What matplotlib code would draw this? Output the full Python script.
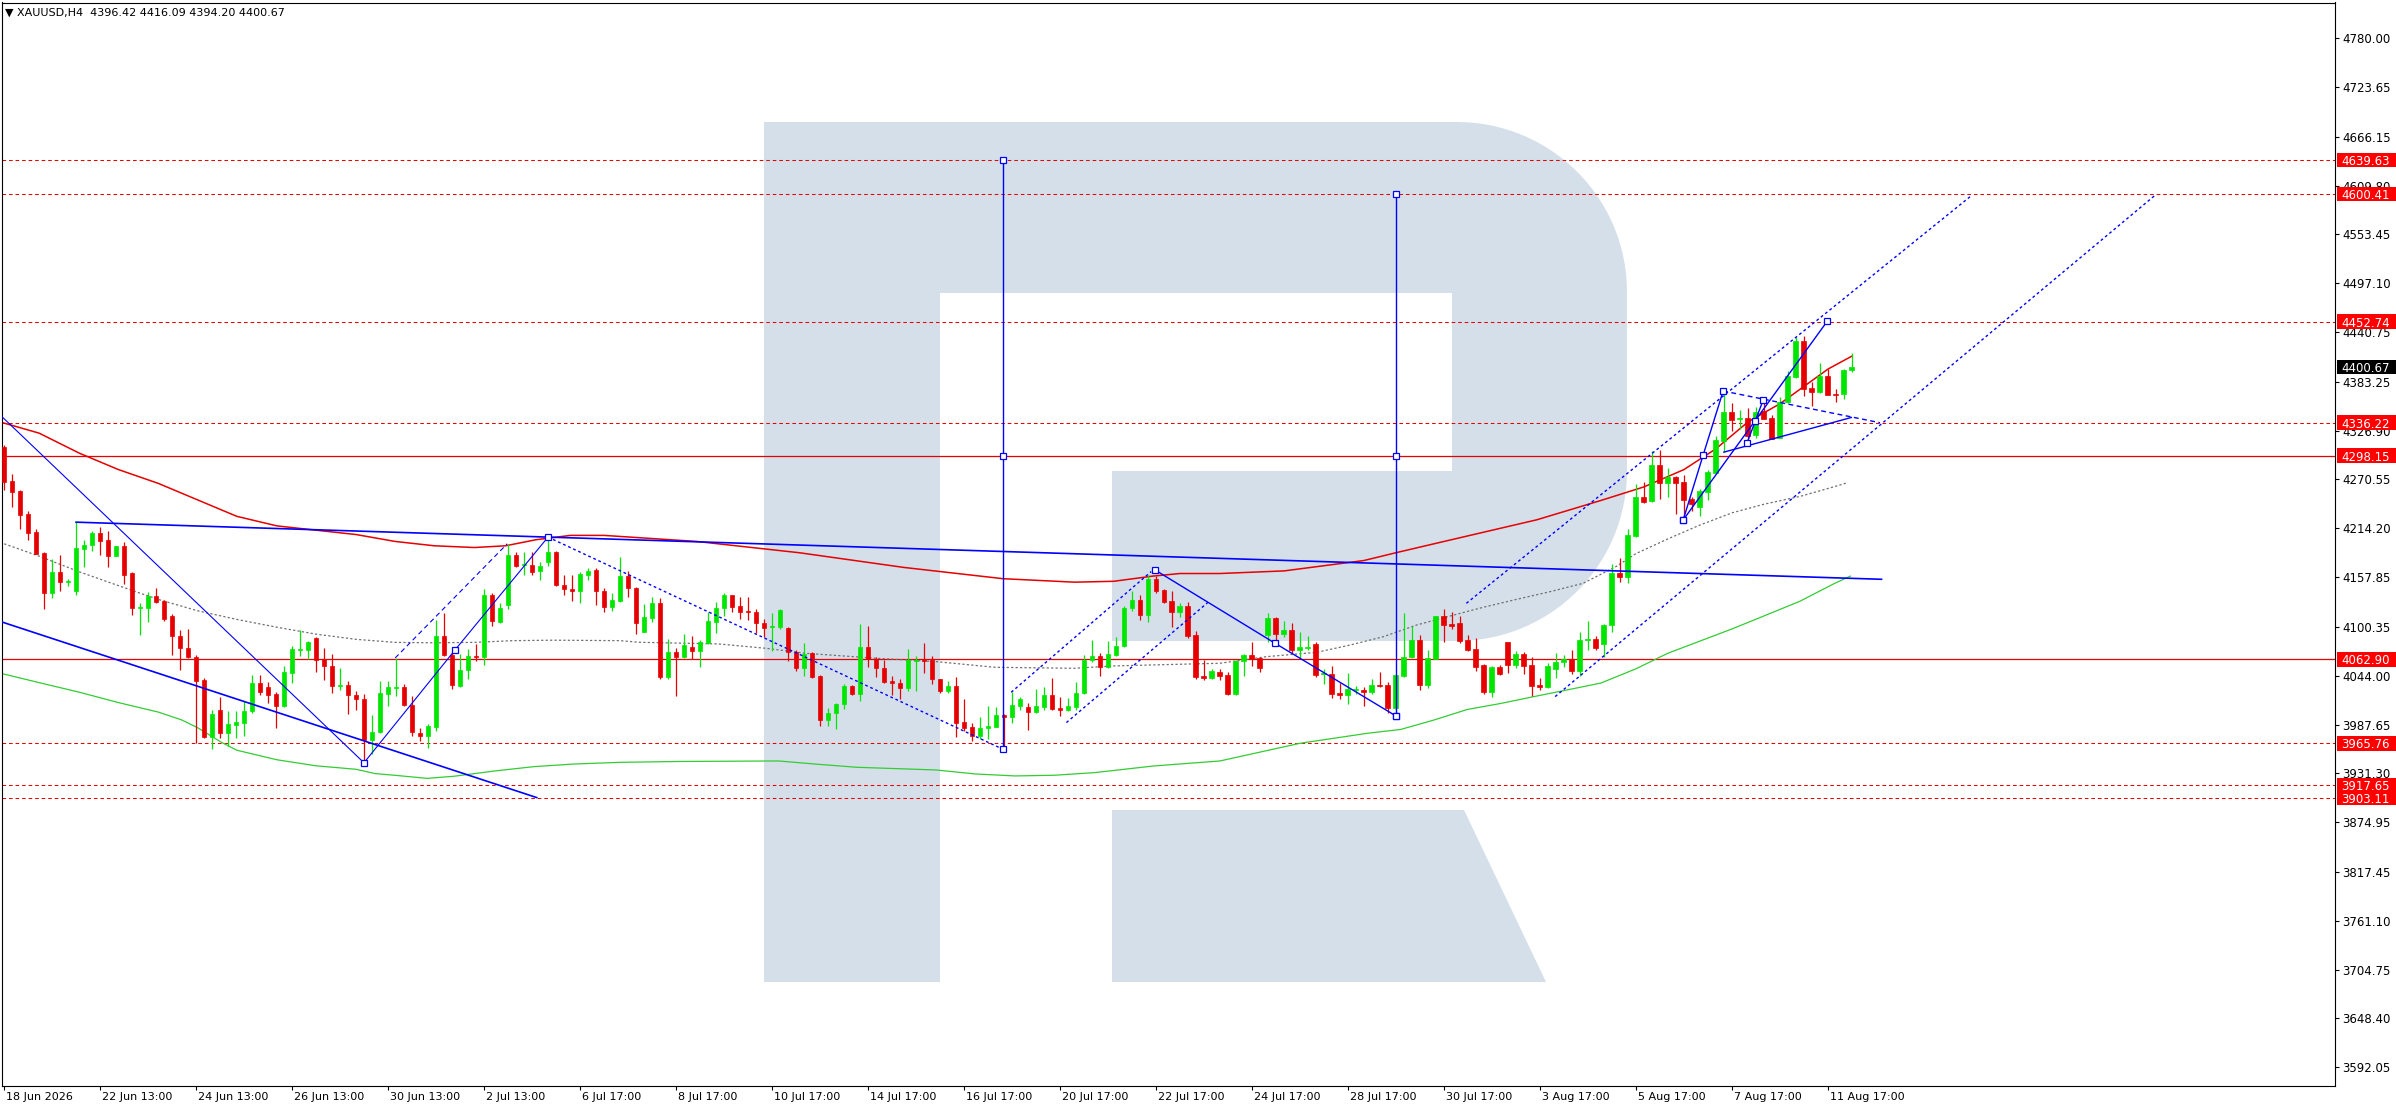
import matplotlib
matplotlib.use('Agg')
import matplotlib.pyplot as plt
import matplotlib.transforms as mtransforms
from matplotlib.patches import Polygon, Rectangle
import numpy as np

plt.rcParams['font.family'] = ['DejaVu Sans']
plt.rcParams['lines.scale_dashes'] = False

# ---------------- DATA ----------------
symbol_header = "\u25BC XAUUSD,H4  4396.42 4416.09 4394.20 4400.67"

opens = [4308.5,4268.9,4257.8,4230.9,4210.1,4185.5,4139.8,4164.0,4152.1,4142.1,
4190.5,4194.4,4209.3,4200.5,4182.4,4193.2,4162.5,4121.7,4121.7,4136.3,
4130.6,4113.3,4090.2,4076.4,4066.0,4039.5,3973.1,4004.9,3977.3,3986.9,
3989.2,4003.0,4035.7,4030.7,4023.4,4008.8,4047.2,4074.1,4074.1,4087.9,
4063.7,4055.7,4031.8,4033.0,4022.2,4017.6,3969.6,3978.8,4023.4,4029.9,
4031.1,4009.9,3978.1,3974.2,3984.6,4090.2,4068.3,4031.8,4050.3,4067.2,
4065.3,4137.5,4106.0,4125.2,4183.6,4171.3,4172.1,4164.4,4174.8,4186.7,
4149.0,4144.4,4141.3,4160.6,4166.3,4141.9,4123.8,4130.7,4159.2,4145.7,
4094.9,4111.1,4127.6,4042.2,4071.4,4066.1,4077.6,4073.0,4081.4,4106.5,
4121.9,4137.2,4124.5,4118.0,4117.6,4104.5,4100.3,4100.7,4099.1,4071.8,
4053.4,4069.9,4043.7,3992.9,4000.6,4011.0,4032.2,4022.6,4077.6,4063.4,
4052.6,4038.0,4035.3,4030.3,4061.1,4062.2,4062.2,4039.9,4026.8,4032.2,
3990.6,3984.9,3974.9,3983.3,3985.2,3998.7,3996.8,4009.1,4007.6,4002.6,
4007.6,4021.8,4007.2,4004.5,4008.3,4023.7,4062.2,4066.8,4053.7,4068.0,
4078.8,4121.9,4131.5,4114.2,4155.3,4143.0,4130.3,4118.0,4124.5,4091.1,
4044.1,4041.8,4048.3,4044.9,4023.0,4061.0,4068.0,4064.1,4091.0,4111.1,
4092.2,4096.8,4074.1,4076.4,4080.7,4045.6,4046.0,4024.5,4021.8,4027.6,
4027.6,4025.6,4033.3,4033.3,4007.2,4044.1,4066.0,4085.3,4033.3,4063.3,
4113.0,4103.7,4104.5,4085.3,4074.9,4056.4,4025.6,4054.5,4083.0,4056.4,
4069.1,4056.4,4033.3,4030.6,4051.8,4059.5,4063.0,4049.9,4085.3,4086.4,
4080.3,4102.6,4162.2,4158.4,4205.3,4250.0,4246.1,4287.3,4266.9,4273.0,
4268.0,4247.6,4238.4,4256.5,4278.4,4315.4,4348.1,4340.0,4341.9,4321.9,
4350.0,4341.5,4318.8,4360.4,4388.5,4430.4,4376.6,4371.9,4390.0,4368.9,
4369.2,4396.42]

highs = [4310.4,4277.0,4258.5,4234.7,4213.6,4186.3,4178.6,4183.6,4155.9,4221.3,
4200.9,4211.3,4215.5,4211.3,4193.9,4198.2,4163.2,4128.3,4140.2,4145.2,
4131.7,4115.6,4097.2,4098.3,4068.3,4041.8,4004.2,4019.5,4003.4,4003.4,
4014.5,4044.9,4044.9,4036.4,4024.9,4054.9,4078.7,4097.2,4084.5,4088.7,
4076.0,4069.5,4053.0,4037.6,4026.8,4023.4,3999.2,4038.4,4037.6,4064.5,
4034.5,4020.3,3983.8,3988.4,4108.7,4116.4,4070.3,4069.5,4074.9,4081.0,
4144.4,4139.4,4127.9,4196.3,4187.4,4187.4,4186.3,4175.1,4204.0,4188.2,
4160.6,4160.6,4163.2,4168.2,4168.2,4144.9,4139.2,4180.7,4165.3,4146.1,
4126.5,4134.6,4133.4,4086.1,4076.4,4092.2,4090.3,4085.3,4118.0,4128.8,
4139.2,4137.2,4134.6,4134.6,4121.1,4109.2,4116.1,4121.1,4100.7,4073.8,
4081.4,4071.1,4044.5,4006.4,4012.9,4034.5,4033.3,4103.8,4101.8,4065.3,
4062.2,4043.7,4039.9,4074.9,4066.8,4082.2,4066.8,4040.3,4038.0,4043.0,
4017.2,3989.9,3996.0,4009.5,4008.3,3999.5,4024.9,4019.9,4012.2,4028.3,
4031.4,4041.0,4019.9,4017.9,4037.2,4068.0,4085.3,4070.7,4084.1,4089.1,
4124.5,4141.9,4137.2,4160.3,4159.2,4143.8,4141.9,4128.4,4128.8,4096.1,
4062.2,4051.8,4051.4,4048.7,4062.2,4069.1,4083.0,4066.0,4116.4,4112.2,
4107.2,4104.5,4094.5,4089.9,4083.0,4051.8,4055.3,4035.2,4046.8,4032.2,
4031.4,4039.9,4047.9,4036.4,4044.9,4116.8,4101.4,4091.0,4073.7,4113.0,
4121.1,4118.0,4112.6,4091.0,4087.2,4057.6,4055.6,4056.4,4083.0,4072.6,
4071.8,4066.0,4041.0,4058.3,4069.9,4068.0,4073.7,4094.5,4107.2,4089.9,
4103.3,4173.0,4180.3,4213.4,4265.3,4268.0,4303.4,4304.6,4283.4,4274.6,
4275.7,4250.7,4259.2,4281.5,4320.8,4373.9,4358.5,4350.8,4352.7,4353.9,
4363.1,4345.0,4365.4,4396.2,4435.4,4436.6,4383.5,4405.4,4398.1,4375.4,
4398.1,4416.09]

lows = [4258.5,4239.3,4213.6,4200.9,4184.0,4121.4,4133.7,4142.1,4147.1,4136.7,
4169.8,4188.2,4182.8,4169.0,4182.4,4150.2,4113.7,4090.6,4105.6,4127.9,
4107.1,4068.3,4050.3,4064.5,3965.8,3972.0,3959.6,3972.3,3962.7,3972.3,
3974.2,4001.1,4022.2,4012.2,3983.8,4008.0,4035.7,4067.2,4063.7,4048.0,
4039.5,4024.2,4028.0,4000.3,4004.9,3943.5,3953.1,3978.1,4008.8,4021.1,
4008.8,3974.2,3969.2,3960.8,3980.7,4067.2,4028.8,4030.7,4040.7,4060.6,
4056.8,4101.0,4104.8,4121.4,4169.0,4159.8,4159.8,4154.8,4170.1,4147.1,
4136.7,4130.6,4128.3,4154.8,4125.2,4117.2,4119.2,4129.5,4135.3,4092.2,
4094.1,4106.5,4040.3,4040.3,4021.0,4064.1,4063.0,4054.5,4080.7,4093.8,
4113.0,4118.0,4109.2,4108.4,4093.8,4089.1,4073.0,4098.0,4061.4,4049.9,
4044.1,4041.8,3986.4,3986.4,3982.9,4006.0,4021.8,4015.3,4053.7,4043.0,
4035.3,4021.8,4017.2,4026.8,4026.8,4047.6,4034.1,4023.7,4023.7,3973.7,
3980.6,3969.1,3970.6,3970.6,3985.2,3962.0,3989.1,4004.5,3981.4,4001.4,
4004.5,4004.5,3997.6,4003.7,4004.5,4023.0,4060.3,4043.7,4052.6,4067.0,
4077.6,4119.2,4108.4,4106.5,4139.2,4128.4,4100.7,4112.2,4087.2,4040.3,
4039.1,4040.6,4039.1,4021.8,4022.2,4043.7,4055.3,4048.3,4083.3,4084.5,
4089.1,4070.6,4064.1,4073.7,4042.2,4034.5,4018.7,4016.8,4011.4,4022.9,
4009.5,4022.9,4031.4,4001.4,3997.5,4042.9,4064.1,4027.6,4029.5,4062.9,
4083.3,4097.6,4082.2,4072.6,4049.9,4022.9,4019.9,4044.9,4047.6,4052.6,
4046.0,4020.6,4027.6,4029.5,4041.8,4054.5,4046.0,4044.1,4073.7,4073.7,
4066.0,4094.9,4152.6,4150.7,4204.6,4243.0,4244.2,4247.6,4250.0,4230.3,
4223.8,4234.6,4228.8,4246.9,4277.7,4301.9,4326.9,4328.4,4316.1,4318.1,
4340.4,4316.9,4318.1,4359.2,4387.3,4367.3,4355.8,4370.8,4367.7,4360.4,
4363.1,4394.20]

closes = [4268.1,4256.6,4229.7,4209.3,4184.8,4139.8,4164.0,4151.7,4152.9,4191.7,
4195.1,4209.3,4199.7,4182.4,4193.2,4160.6,4121.7,4123.3,4136.3,4128.7,
4109.8,4089.5,4075.6,4065.3,4038.4,3973.1,4000.3,3977.3,3988.0,3990.0,
4003.4,4035.7,4024.9,4021.9,4008.8,4048.4,4074.9,4074.9,4082.5,4061.8,
4054.9,4031.8,4033.8,4021.5,4017.2,3969.6,3979.6,4024.2,4030.7,4031.1,
4010.7,3978.8,3974.2,3985.7,4090.2,4068.3,4033.0,4051.1,4067.2,4065.3,
4137.5,4106.8,4122.1,4183.6,4170.9,4172.1,4163.6,4170.1,4186.7,4148.3,
4144.0,4141.3,4161.7,4165.2,4141.3,4123.8,4131.5,4159.2,4144.9,4105.3,
4111.8,4127.6,4042.2,4071.4,4066.1,4079.5,4073.0,4082.6,4107.2,4122.6,
4137.2,4123.8,4117.2,4117.2,4104.5,4099.5,4101.5,4119.9,4071.8,4053.4,
4069.1,4043.0,3992.9,4001.4,4011.4,4032.2,4022.6,4077.6,4063.4,4052.6,
4037.2,4035.3,4030.3,4062.2,4062.2,4061.1,4039.9,4026.8,4032.2,3989.9,
3984.1,3974.9,3983.3,3986.4,3998.7,3996.8,4010.3,4017.2,4002.6,4009.1,
4021.8,4005.6,4004.5,4009.1,4023.7,4062.2,4066.8,4053.7,4069.1,4078.8,
4122.6,4131.5,4114.2,4155.3,4141.9,4129.5,4118.0,4124.5,4089.9,4042.2,
4041.8,4049.5,4044.1,4023.0,4061.0,4068.0,4063.0,4053.3,4110.7,4092.2,
4096.8,4073.7,4077.2,4077.2,4044.9,4046.8,4023.0,4021.8,4028.7,4028.3,
4025.6,4033.7,4032.6,4007.2,4044.9,4065.6,4085.3,4033.3,4064.9,4113.0,
4102.6,4101.4,4084.5,4073.7,4054.5,4025.6,4054.5,4046.0,4056.4,4069.1,
4055.6,4032.6,4030.6,4055.3,4059.5,4063.0,4049.9,4085.3,4086.8,4076.4,
4102.6,4162.2,4158.4,4206.5,4250.7,4244.2,4287.3,4266.9,4273.0,4266.9,
4246.9,4241.9,4257.3,4279.6,4316.1,4348.1,4339.2,4341.9,4321.1,4348.1,
4340.8,4317.3,4360.4,4390.0,4430.8,4375.0,4371.9,4390.0,4368.1,4367.7,
4396.9,4400.67]

# moving averages (bar index, value)
ma_red_bar = [-0.5, 4.4, 9.4, 14.3, 19.3, 24.2, 29.1, 34.1, 39, 44, 48.9, 53.8, 58.8, 62.7,
              66.5, 70.8, 75, 86.6, 99.4, 112.5, 124.9, 133.8, 138.7, 143.6, 147, 152,
              160, 170, 174, 180, 191.6, 199.5, 205, 210, 214, 218, 222, 225, 228, 231]
ma_red_val = [4337, 4324, 4301, 4282, 4266, 4247, 4228, 4217, 4212, 4207, 4199, 4194, 4192, 4194,
              4201, 4206, 4206, 4199, 4186, 4169, 4156, 4152, 4153, 4159, 4162, 4162,
              4165, 4177, 4186, 4199, 4224, 4246, 4262, 4282, 4306, 4337, 4358, 4378, 4398, 4413]

ma_gray_bar = [-0.5, 4.4, 9.4, 14.3, 19.3, 24.2, 29.1, 34.1, 39, 44, 48.9, 53.8, 58.8, 63.7,
               68.7, 77, 79.4, 89.3, 95.2, 100.2, 109.1, 116.5, 123.9, 133.8, 138.7, 152,
               157.8, 164.1, 168.3, 172.4, 176.6, 180.8, 184.9, 189.1, 193.3, 197.4, 201.5,
               204, 208, 212, 216, 220, 224.5, 228.7, 230.5]
ma_gray_val = [4198, 4182, 4164, 4148, 4132, 4119, 4109, 4100, 4092, 4086, 4082.5, 4082, 4082.5, 4084.5,
               4085, 4084.5, 4082.6, 4080.7, 4075.7, 4069.9, 4064.1, 4060.3, 4053.7, 4052.6, 4055.3, 4058.4,
               4066, 4071, 4079.5, 4089, 4102.6, 4113, 4123, 4132.2, 4141.1, 4150.7, 4170,
               4185, 4202, 4218, 4232, 4242, 4251, 4262, 4267]

ma_green_bar = [-0.5, 4.4, 9.4, 14.3, 19.3, 22.2, 24.2, 27.2, 29.1, 34.1, 39, 44, 46.4, 48.9,
                52.9, 56.3, 61.3, 66.2, 71.1, 77, 84.4, 96.8, 101.7, 106.6, 116.5, 121.4,
                126.4, 131.3, 136.3, 143.7, 152, 162, 170.4, 174.6, 178.8, 182.9, 187.1,
                191.3, 195.4, 199.6, 204, 208, 212, 216, 220, 224.5, 228.7, 230.8]
ma_green_val = [4047, 4036, 4025, 4013, 4002, 3993, 3984, 3967, 3958, 3947, 3940, 3936, 3931, 3929,
                3925.5, 3928, 3934, 3939, 3942, 3944, 3945, 3945.6, 3941.8, 3938.3, 3935.2, 3930.6,
                3928.3, 3929.1, 3932.1, 3939.8, 3945.6, 3966, 3977.5, 3982, 3993, 4005, 4012,
                4020, 4027.6, 4035.5, 4052, 4070, 4084, 4098, 4113, 4130, 4150, 4159]

# horizontal levels
levels_dashed = [4639.63, 4600.41, 4452.74, 4336.22, 3965.76, 3917.65, 3903.11]
levels_solid = [4298.15, 4062.90]
current_price = 4400.67

# price-axis ticks
price_ticks = [4780.00, 4723.65, 4666.15, 4609.80, 4553.45, 4497.10, 4440.75, 4383.25, 4326.90,
               4270.55, 4214.20, 4157.85, 4100.35, 4044.00, 3987.65, 3931.30, 3874.95, 3817.45,
               3761.10, 3704.75, 3648.40, 3592.05]

# time-axis labels (every 12 bars)
time_labels = ["18 Jun 2026", "22 Jun 13:00", "24 Jun 13:00", "26 Jun 13:00", "30 Jun 13:00",
               "2 Jul 13:00", "6 Jul 17:00", "8 Jul 17:00", "10 Jul 17:00", "14 Jul 17:00",
               "16 Jul 17:00", "20 Jul 17:00", "22 Jul 17:00", "24 Jul 17:00", "28 Jul 17:00",
               "30 Jul 17:00", "3 Aug 17:00", "5 Aug 17:00", "7 Aug 17:00", "11 Aug 17:00"]
time_label_bars = [12 * k for k in range(len(time_labels))]

# drawn objects (bar, price)
line_big_diag = [(-0.25, 4343.0), (45, 3943.5)]
line_zig1 = [(45, 3943.5), (56.4, 4074.0), (68, 4204.0)]
line_dot_down = [(68, 4204.0), (124.9, 3959.0)]
line_dash_ch1 = [(48.9, 4064.5), (62.9, 4196.3)]
line_vert1 = [(124.9, 3959.0), (124.9, 4298.15), (124.9, 4639.63)]
line_dot_ch2a = [(125.9, 4024.9), (143.4, 4164.2)]
line_dot_ch2b = [(132.8, 3989.9), (150.6, 4129.5)]
line_zig2 = [(143.9, 4166.0), (158.9, 4081.4), (174.0, 3997.5)]
line_vert2 = [(174.0, 3997.5), (174.0, 4298.15), (174.0, 4600.41)]
line_long_flat = [(8.9, 4221.3), (234.8, 4155.3)]
line_low_left = [(-0.25, 4106.0), (66.7, 3903.0)]
line_up_ch_a = [(182.8, 4127.6), (245.9, 4598.0)]
line_up_ch_b = [(193.9, 4019.9), (268.8, 4598.0)]
line_zigA = [(209.9, 4223.8), (212.4, 4298.8), (214.9, 4372.7)]
line_zigC = [(209.9, 4223.8), (218.9, 4338.5), (227.9, 4453.1)]
line_zigD = [(217.9, 4313.1), (219.9, 4362.3)]
line_tri_top = [(214.9, 4372.7), (234.5, 4336.1)]
line_tri_bot = [(214.9, 4301.9), (231.0, 4342.3)]

# ---------------- FIGURE ----------------
W, H = 2396, 1110
fig = plt.figure(figsize=(W / 100, H / 100), dpi=100)
fig.patch.set_facecolor('white')
PL, PR, PT, PB = 2.0, 2334.6, 2.5, 1085.7
ax = fig.add_axes([PL / W, 1 - PB / H, (PR - PL) / W, (PB - PT) / H])
ax.set_facecolor('white')
ax.set_xlim(-0.25, 291.33)
ax.set_ylim(3570.7, 4821.2)

# pixel transform (x from left, y from top) for the watermark
pix = mtransforms.Affine2D().scale(1.0 / W, -1.0 / H).translate(0, 1) + fig.transFigure

# watermark "R"
wm_col = '#D5DFEA'
r = 170.0
t1 = np.linspace(np.pi / 2, 0, 30)
t2 = np.linspace(0, -np.pi / 2, 30)
cx = 1627 - r
top_arc = [(cx + r * np.cos(t), (122 + r) - r * np.sin(t)) for t in t1]
bot_arc = [(cx + r * np.cos(t), (641 - r) - r * np.sin(t)) for t in t2]
outer = [(764, 122)] + top_arc + bot_arc + [(1112, 641), (1112, 471), (1452, 471),
                                            (1452, 293), (940, 293), (940, 982), (764, 982)]
ax.add_patch(Polygon(outer, closed=True, transform=pix, facecolor=wm_col, edgecolor='none', zorder=0.5))
leg = [(1112, 810), (1464, 810), (1546, 982), (1112, 982)]
ax.add_patch(Polygon(leg, closed=True, transform=pix, facecolor=wm_col, edgecolor='none', zorder=0.5))

RED = '#E60000'
GREEN = '#00E600'
BLUE = '#0000FF'

# horizontal levels
for lv in levels_dashed:
    ax.axhline(lv, color=RED, lw=0.75, dashes=(2.6, 2.1), zorder=1)
for lv in levels_solid:
    ax.axhline(lv, color=RED, lw=0.9, zorder=1)

# moving averages
ax.plot(ma_red_bar, ma_red_val, color=RED, lw=1.1, zorder=2)
ax.plot(ma_gray_bar, ma_gray_val, color='#707070', lw=0.9, dashes=(1.6, 1.6), zorder=2)
ax.plot(ma_green_bar, ma_green_val, color='#33CC33', lw=0.9, zorder=2)

# candles
xs = np.arange(len(opens))
o = np.array(opens); h = np.array(highs); l = np.array(lows); c = np.array(closes)
up = c >= o
cols = np.where(up, GREEN, RED)
ax.vlines(xs, l, h, colors=cols, lw=0.9, zorder=3)
body_bot = np.minimum(o, c)
body_h = np.maximum(np.abs(c - o), 1.2)
ax.bar(xs, body_h, bottom=body_bot, width=0.62, color=cols, edgecolor=cols, lw=0.5, zorder=3.1)

# drawn objects
def draw(pts, ls='solid', lw=0.8, markers=False):
    xx = [p[0] for p in pts]; yy = [p[1] for p in pts]
    kw = {}
    if ls == 'dot':
        kw['dashes'] = (2.0, 2.0)
    elif ls == 'dash':
        kw['dashes'] = (3.5, 2.5)
    ax.plot(xx, yy, color=BLUE, lw=lw, zorder=4, solid_capstyle='butt', **kw)
    if markers:
        ax.plot(xx, yy, ls='none', marker='s', ms=4.2, mfc='white', mec=BLUE, mew=0.9, zorder=4.5)

draw(line_big_diag, lw=0.8)
draw(line_zig1, lw=0.8, markers=True)
draw(line_dot_down, ls='dot', lw=1.0)
draw(line_dash_ch1, ls='dash', lw=0.8)
draw(line_vert1, lw=1.0, markers=True)
draw(line_dot_ch2a, ls='dot', lw=1.0)
draw(line_dot_ch2b, ls='dot', lw=1.0)
draw(line_zig2, lw=1.0, markers=True)
draw(line_vert2, lw=1.0, markers=True)
draw(line_long_flat, lw=1.2)
draw(line_low_left, lw=1.2)
draw(line_up_ch_a, ls='dot', lw=1.0)
draw(line_up_ch_b, ls='dot', lw=1.0)
draw(line_zigA, lw=1.0, markers=True)
draw(line_zigC, lw=1.0, markers=True)
draw(line_zigD, lw=1.0, markers=True)
draw(line_tri_top, ls='dash', lw=1.0)
draw(line_tri_bot, lw=1.0)

# axes styling
for s in ax.spines.values():
    s.set_color('black'); s.set_linewidth(0.8)
ax.yaxis.tick_right()
ax.set_yticks(price_ticks)
ax.set_yticklabels([f"{v:.2f}" for v in price_ticks])
ax.tick_params(axis='y', direction='out', length=3, width=0.8, pad=2.5, labelsize=8.5,
               right=True, left=False, labelright=True, labelleft=False, colors='black')
ax.set_xticks(time_label_bars)
ax.set_xticklabels(time_labels)
ax.tick_params(axis='x', direction='out', length=3, width=0.8, pad=1.5, labelsize=8, colors='black')
off = mtransforms.ScaledTranslation(2 / 100, 0, fig.dpi_scale_trans)
for lbl in ax.get_xticklabels():
    lbl.set_horizontalalignment('left')
    lbl.set_transform(lbl.get_transform() + off)

# right-side price labels
bt = mtransforms.blended_transform_factory(fig.transFigure, ax.transData)
box_h = 14.5 / 0.8662
def price_box(val, fc):
    fig.add_artist(Rectangle((2336.5 / W, val - box_h / 2), 59.5 / W, box_h, transform=bt,
                             facecolor=fc, edgecolor='none', zorder=5, clip_on=False))
    fig.text(2341.5 / W, val, f"{val:.2f}", transform=bt, color='white', fontsize=8.5,
             va='center_baseline', ha='left', zorder=6)
for lv in levels_dashed + levels_solid:
    price_box(lv, '#FF0000')
price_box(current_price, '#000000')

# header
fig.text(5 / W, 1 - 13 / H, symbol_header, fontsize=8, va='center', ha='left', color='black')

fig.savefig('out.png', dpi=100, facecolor='white')
